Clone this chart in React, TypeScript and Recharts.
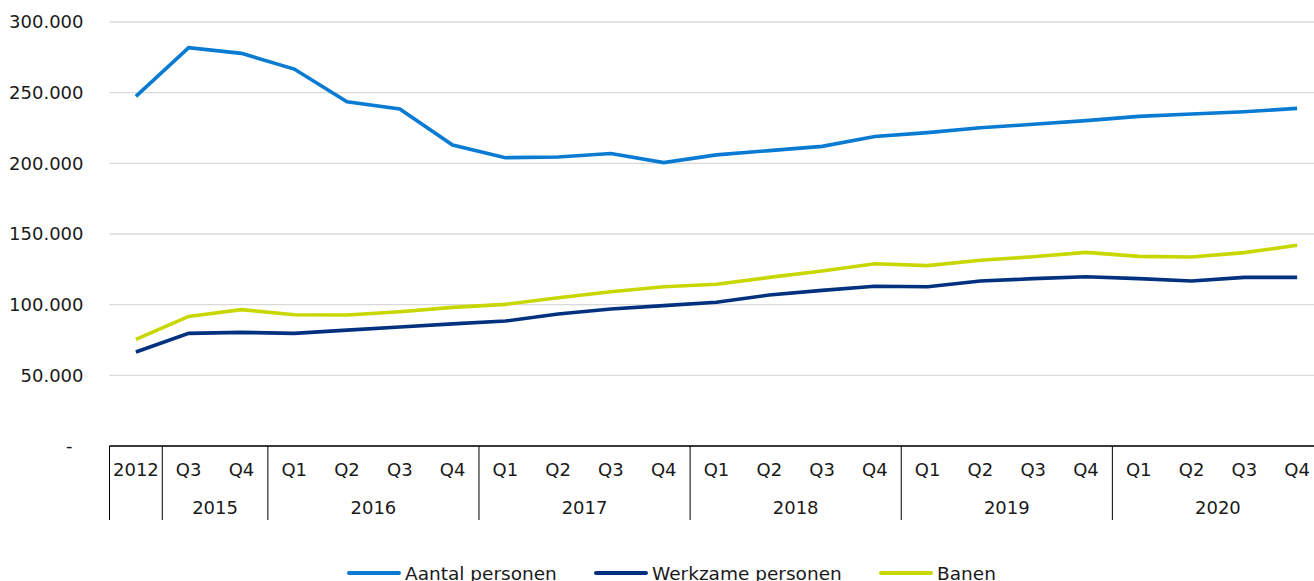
import React from 'react';
import { LineChart, Line, XAxis, YAxis, CartesianGrid } from 'recharts';

const quarters = ['2012', 'Q3', 'Q4', 'Q1', 'Q2', 'Q3', 'Q4', 'Q1', 'Q2', 'Q3', 'Q4', 'Q1', 'Q2', 'Q3', 'Q4', 'Q1', 'Q2', 'Q3', 'Q4', 'Q1', 'Q2', 'Q3', 'Q4'];
const years = ['2012', '2015', '2015', '2016', '2016', '2016', '2016', '2017', '2017', '2017', '2017', '2018', '2018', '2018', '2018', '2019', '2019', '2019', '2019', '2020', '2020', '2020', '2020'];
const aantalPersonen = [247400, 281800, 277800, 266700, 243600, 238400, 213000, 204000, 204500, 207000, 200500, 206000, 209000, 212000, 219000, 221700, 225200, 227600, 230200, 233200, 234900, 236500, 238900];
const werkzamePersonen = [66500, 79700, 80400, 79700, 82000, 84200, 86400, 88400, 93400, 96900, 99300, 101700, 106800, 110100, 113000, 112700, 116700, 118400, 119800, 118400, 116700, 119300, 119300];
const banen = [75500, 91700, 96500, 92900, 92700, 95000, 98100, 100200, 104900, 109200, 112700, 114400, 119300, 123800, 129000, 127600, 131400, 133900, 137000, 134200, 133700, 136800, 142000];
const yTicks = [0, 50000, 100000, 150000, 200000, 250000, 300000];

const seriesNames = ['Aantal personen', 'Werkzame personen', 'Banen'];
const seriesColors = ['#0a7bd2', '#02327f', '#c9d700'];

const data = quarters.map((q, i) => ({
  key: i,
  label: q,
  year: years[i],
  aantal: aantalPersonen[i],
  werkzaam: werkzamePersonen[i],
  banen: banen[i],
}));

const FONT = '"DejaVu Sans", Verdana, sans-serif';
const TEXT = '#1a1a1a';

const fmt = (v: number) => String(v).replace(/\B(?=(\d{3})+(?!\d))/g, '.');

const YTick = (props: any) => {
  const { x, y, payload } = props;
  const v = payload.value;
  return (
    <text x={v === 0 ? x - 11 : x} y={y} dy="0.36em" textAnchor="end" fontFamily={FONT} fontSize={18} fill={TEXT}>
      {v === 0 ? '-' : fmt(v)}
    </text>
  );
};

const XTick = (props: any) => {
  const { x, y, payload } = props;
  const i = payload.value as number;
  const half = payload.offset || 26.38;
  const band = half * 2;
  const isGroupStart = i === 0 || years[i] !== years[i - 1];
  let groupLen = 0;
  if (isGroupStart) {
    let j = i;
    while (j < years.length && years[j] === years[i]) j++;
    groupLen = j - i;
  }
  const left = x - half;
  return (
    <g>
      <text x={x} y={y + 24} dy="0.36em" textAnchor="middle" fontFamily={FONT} fontSize={18} fill={TEXT}>
        {quarters[i]}
      </text>
      {isGroupStart && (
        <line x1={left} y1={y} x2={left} y2={y + 74} stroke="#000" strokeWidth={1} />
      )}
      {isGroupStart && quarters[i] !== years[i] && (
        <text x={left + (groupLen * band) / 2} y={y + 62} dy="0.36em" textAnchor="middle" fontFamily={FONT} fontSize={18} fill={TEXT}>
          {years[i]}
        </text>
      )}
      {i === quarters.length - 1 && (
        <line x1={x + half} y1={y} x2={x + half} y2={y + 74} stroke="#000" strokeWidth={1} />
      )}
    </g>
  );
};

const legendLefts = [347, 594, 879];

export default function App() {
  return (
    <div style={{ position: 'absolute', left: 0, top: 0, width: 1314, height: 581, overflow: 'hidden', background: '#fff' }}>
      <LineChart
        width={1330}
        height={581}
        data={data}
        margin={{ top: 22, right: 6.5, bottom: 61, left: 0 }}
      >
        <CartesianGrid vertical={false} stroke="#d9d9d9" strokeWidth={1.3} />
        <XAxis
          dataKey="key"
          type="category"
          scale="band"
          interval={0}
          height={74}
          tickLine={false}
          tickSize={0}
          tickMargin={0}
          axisLine={{ stroke: '#000', strokeWidth: 1.3 }}
          tick={<XTick />}
        />
        <YAxis
          type="number"
          domain={[0, 300000]}
          ticks={yTicks}
          width={109.5}
          axisLine={false}
          tickLine={false}
          tickSize={0}
          tickMargin={26}
          tick={<YTick />}
          interval={0}
        />
        <Line type="linear" dataKey="aantal" stroke={seriesColors[0]} strokeWidth={3.6} dot={false} isAnimationActive={false} />
        <Line type="linear" dataKey="werkzaam" stroke={seriesColors[1]} strokeWidth={3.6} dot={false} isAnimationActive={false} />
        <Line type="linear" dataKey="banen" stroke={seriesColors[2]} strokeWidth={3.6} dot={false} isAnimationActive={false} />
      </LineChart>
      {seriesNames.map((name, i) => (
        <div
          key={name}
          style={{ position: 'absolute', left: legendLefts[i], top: 562, height: 22, display: 'flex', alignItems: 'center', fontFamily: FONT, fontSize: 18.5, color: TEXT, whiteSpace: 'nowrap' }}
        >
          <span style={{ display: 'inline-block', width: 54, height: 4, background: seriesColors[i], marginRight: 4, borderRadius: 2 }} />
          <span>{name}</span>
        </div>
      ))}
    </div>
  );
}
